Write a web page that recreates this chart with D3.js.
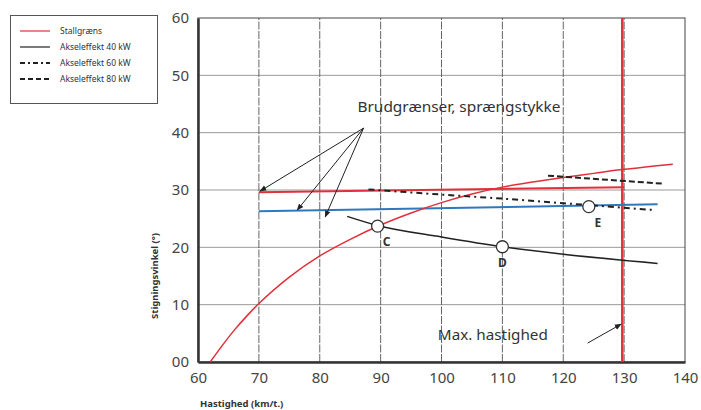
<!DOCTYPE html>
<html>
<head>
<meta charset="utf-8">
<script src="https://cdn.jsdelivr.net/npm/d3@7"></script>
<style>
  body { margin: 0; background: #fff; }
  svg { display: block; font-family: "Noto Sans", "Open Sans", sans-serif; }
</style>
</head>
<body>
<div id="chart"></div>
<script>
// data (speed km/t., angle degrees)
const xTicks = [60, 70, 80, 90, 100, 110, 120, 130, 140];
const yTicks = [0, 10, 20, 30, 40, 50, 60];
const yTickLabels = ["00", "10", "20", "30", "40", "50", "60"];

const stallSpeed = [62, 64, 66, 68, 70, 75, 80, 85, 90, 95, 100, 105, 110, 115, 120, 125, 130, 138];
const stallAngle = [0, 2.9, 5.6, 8.0, 10.2, 14.8, 18.5, 21.4, 23.9, 26.0, 27.8, 29.3, 30.5, 31.4, 32.2, 32.9, 33.6, 34.5];

const effect40Speed = [84.5, 89.5, 100, 110, 120, 135.5];
const effect40Angle = [25.4, 23.8, 21.8, 20.1, 18.8, 17.2];

const effect60Speed = [88, 100, 110, 120, 135];
const effect60Angle = [30.1, 29.2, 28.5, 27.7, 26.5];

const effect80Speed = [117.5, 136.5];
const effect80Angle = [32.5, 31.1];

const redLimitSpeed = [70, 130];
const redLimitAngle = [29.6, 30.5];

const blueLimitSpeed = [70, 135.5];
const blueLimitAngle = [26.3, 27.5];

const maxSpeed = 129.7;

const pointNames = ["C", "D", "E"];
const pointSpeed = [89.5, 110, 124.2];
const pointAngle = [23.7, 20.1, 27.1];

const legendNames = ["Stallgræns", "Akseleffekt 40 kW", "Akseleffekt 60 kW", "Akseleffekt 80 kW"];

const width = 701, height = 410;
const margin = {top: 18, right: 16, bottom: 48, left: 198};

const svg = d3.select("#chart").append("svg")
    .attr("width", width)
    .attr("height", height);

const x = d3.scaleLinear().domain([60, 140]).range([margin.left, width - margin.right]);
const y = d3.scaleLinear().domain([0, 60]).range([height - margin.bottom, margin.top]);

const red = "#e2303a", blue = "#2f78bd", ink = "#222";

// grid
svg.append("g").selectAll("line")
    .data(yTicks.slice(1, -1))
    .enter().append("line")
    .attr("x1", x(60)).attr("x2", x(140))
    .attr("y1", d => y(d)).attr("y2", d => y(d))
    .attr("stroke", "#9a9a9a").attr("stroke-width", 1);
svg.append("g").selectAll("line")
    .data(xTicks.slice(1, -1))
    .enter().append("line")
    .attr("x1", d => x(d)).attr("x2", d => x(d))
    .attr("y1", y(0)).attr("y2", y(60))
    .attr("stroke", "#555").attr("stroke-width", 0.9)
    .attr("stroke-dasharray", "8,1.5");

// frame
svg.append("rect")
    .attr("x", x(60)).attr("y", y(60))
    .attr("width", x(140) - x(60)).attr("height", y(0) - y(60))
    .attr("fill", "none").attr("stroke", "#444").attr("stroke-width", 1);

// axes
const xAxis = svg.append("g")
    .attr("transform", `translate(0,${y(0)})`)
    .call(d3.axisBottom(x).tickValues(xTicks).tickSize(0).tickPadding(10));
const yAxis = svg.append("g")
    .attr("transform", `translate(${x(60)},0)`)
    .call(d3.axisLeft(y).tickValues(yTicks).tickSize(0).tickPadding(9)
        .tickFormat((d, i) => yTickLabels[i]));
[xAxis, yAxis].forEach(a => {
    a.select(".domain").attr("stroke", "#333").attr("stroke-width", 2.5);
    a.selectAll("text").attr("font-size", 15).attr("fill", "#444")
        .attr("font-family", "Noto Sans, sans-serif");
});

svg.append("text")
    .attr("x", x(60) + 2).attr("y", 407)
    .attr("font-size", 9.5).attr("font-weight", "bold").attr("fill", "#333")
    .text("Hastighed (km/t.)");
svg.append("text")
    .attr("transform", `translate(158,276) rotate(-90)`)
    .attr("text-anchor", "middle")
    .attr("font-size", 9.5).attr("font-weight", "bold").attr("fill", "#333")
    .text("Stigningsvinkel (°)");

const line = d3.line().x(d => x(d[0])).y(d => y(d[1]));
const zip = (a, b) => a.map((v, i) => [v, b[i]]);

// max speed line
svg.append("line")
    .attr("x1", x(maxSpeed)).attr("x2", x(maxSpeed))
    .attr("y1", y(0)).attr("y2", y(60))
    .attr("stroke", red).attr("stroke-width", 2.5);

svg.append("path").datum(zip(redLimitSpeed, redLimitAngle))
    .attr("d", line).attr("fill", "none").attr("stroke", red).attr("stroke-width", 2);
svg.append("path").datum(zip(blueLimitSpeed, blueLimitAngle))
    .attr("d", line).attr("fill", "none").attr("stroke", blue).attr("stroke-width", 2);
svg.append("path").datum(zip(stallSpeed, stallAngle))
    .attr("d", line.curve(d3.curveCatmullRom)).attr("fill", "none").attr("stroke", red).attr("stroke-width", 1.5);
line.curve(d3.curveLinear);
svg.append("path").datum(zip(effect60Speed, effect60Angle))
    .attr("d", line).attr("fill", "none").attr("stroke", ink).attr("stroke-width", 2)
    .attr("stroke-dasharray", "6,4,2,4");
svg.append("path").datum(zip(effect80Speed, effect80Angle))
    .attr("d", line).attr("fill", "none").attr("stroke", ink).attr("stroke-width", 2)
    .attr("stroke-dasharray", "6,3");
svg.append("path").datum(zip(effect40Speed, effect40Angle))
    .attr("d", line.curve(d3.curveMonotoneX)).attr("fill", "none").attr("stroke", ink).attr("stroke-width", 1.5);

// points C, D, E
const pts = svg.append("g").selectAll("g")
    .data(pointNames.map((n, i) => ({n, sx: pointSpeed[i], a: pointAngle[i]})))
    .enter().append("g");
pts.append("circle")
    .attr("cx", d => x(d.sx)).attr("cy", d => y(d.a)).attr("r", 6)
    .attr("fill", "#fff").attr("stroke", "#333").attr("stroke-width", 1.3);
pts.append("text")
    .attr("x", d => x(d.sx) + (d.n === "D" ? 0 : 9)).attr("y", d => y(d.a) + 20)
    .attr("text-anchor", "middle")
    .attr("font-size", 12).attr("font-weight", "bold").attr("fill", "#333")
    .text(d => d.n);

// annotations
const defs = svg.append("defs");
defs.append("marker").attr("id", "arr")
    .attr("viewBox", "0 0 10 10").attr("refX", 9).attr("refY", 5)
    .attr("markerWidth", 7).attr("markerHeight", 7).attr("orient", "auto")
    .append("path").attr("d", "M0,1L10,5L0,9z").attr("fill", "#222");

const brudFrom = [87.2, 40.8];
const brudTo = [[70.2, 29.8], [76.3, 26.5], [80.9, 25.3]];
svg.append("g").selectAll("line")
    .data(brudTo).enter().append("line")
    .attr("x1", x(brudFrom[0])).attr("y1", y(brudFrom[1]))
    .attr("x2", d => x(d[0])).attr("y2", d => y(d[1]))
    .attr("stroke", "#222").attr("stroke-width", 1)
    .attr("marker-end", "url(#arr)");
svg.append("text")
    .attr("x", x(86.2)).attr("y", y(43.6))
    .attr("font-size", 15).attr("fill", "#333")
    .attr("textLength", 203).attr("lengthAdjust", "spacingAndGlyphs")
    .text("Brudgrænser, sprængstykke");

svg.append("line")
    .attr("x1", x(124)).attr("y1", y(3.3))
    .attr("x2", x(129.5)).attr("y2", y(6.6))
    .attr("stroke", "#222").attr("stroke-width", 1)
    .attr("marker-end", "url(#arr)");
svg.append("text")
    .attr("x", x(99.4)).attr("y", y(3.8))
    .attr("font-size", 15).attr("fill", "#333")
    .attr("textLength", 110).attr("lengthAdjust", "spacingAndGlyphs")
    .text("Max. hastighed");

// legend
const lg = svg.append("g");
lg.append("rect").attr("x", 10.5).attr("y", 15.5).attr("width", 147).attr("height", 88)
    .attr("fill", "#fff").attr("stroke", "#555");
const legendStyles = [
    {c: red, dash: null, w: 1.2},
    {c: ink, dash: null, w: 1.2},
    {c: ink, dash: "5,3,2,3", w: 2},
    {c: ink, dash: "5,3", w: 2}
];
const items = lg.selectAll("g").data(legendNames).enter().append("g")
    .attr("transform", (d, i) => `translate(0,${31 + i * 16})`);
items.append("line").attr("x1", 20).attr("x2", 50)
    .attr("stroke", (d, i) => legendStyles[i].c)
    .attr("stroke-width", (d, i) => legendStyles[i].w)
    .attr("stroke-dasharray", (d, i) => legendStyles[i].dash);
items.append("text").attr("x", 60).attr("y", 3)
    .attr("font-size", 8.5).attr("fill", "#333")
    .text(d => d);
</script>
</body>
</html>
